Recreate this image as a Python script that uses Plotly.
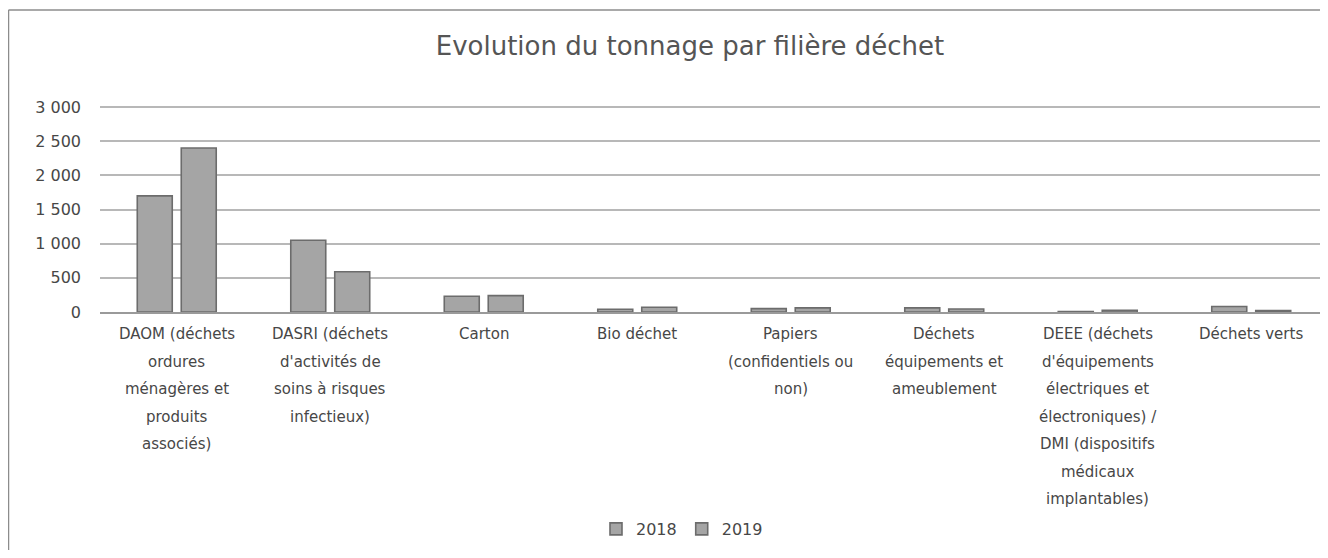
import plotly.graph_objects as go

categories = [
    "DAOM (déchets ordures ménagères et produits associés)",
    "DASRI (déchets d'activités de soins à risques infectieux)",
    "Carton",
    "Bio déchet",
    "Papiers (confidentiels ou non)",
    "Déchets équipements et ameublement",
    "DEEE (déchets d'équipements électriques et électroniques) / DMI (dispositifs médicaux implantables)",
    "Déchets verts",
]
tick_label_lines = [
    ["DAOM (déchets", "ordures", "ménagères et", "produits", "associés)"],
    ["DASRI (déchets", "d'activités de", "soins à risques", "infectieux)"],
    ["Carton"],
    ["Bio déchet"],
    ["Papiers", "(confidentiels ou", "non)"],
    ["Déchets", "équipements et", "ameublement"],
    ["DEEE (déchets", "d'équipements", "électriques et", "électroniques) /",
     "DMI (dispositifs", "médicaux", "implantables)"],
    ["Déchets verts"],
]
values_2018 = [1700, 1050, 230, 40, 50, 60, 5, 80]
values_2019 = [2400, 590, 240, 70, 60, 45, 25, 20]
y_ticks = [0, 500, 1000, 1500, 2000, 2500, 3000]
y_tick_labels = ["0", "500", "1 000", "1 500", "2 000", "2 500", "3 000"]

FONT = "DejaVu Sans, Open Sans, sans-serif"
TEXT = "#474747"
W, H = 1312, 542
ML, MT, MB = 92, 95, 238
plot_h = H - MT - MB          # 209 px
y_top = 3000 * plot_h / 205   # 3000 gridline sits 4px below the plot top

fig = go.Figure()
for name, vals in (("2018", values_2018), ("2019", values_2019)):
    fig.add_trace(go.Bar(
        name=name, x=categories, y=vals,
        marker=dict(color="#a5a5a5", line=dict(color="#6c6c6c", width=1.6)),
    ))

annotations = []
for cat, lines in zip(categories, tick_label_lines):
    for i, line in enumerate(lines):
        annotations.append(dict(
            x=cat, xref="x", y=0, yref="paper", yanchor="middle",
            yshift=-(22 + 27.5 * i), text=line, showarrow=False,
            font=dict(family=FONT, size=15, color=TEXT),
        ))

top_y = (H - MB - 2) / plot_h
left_x = (0.5 - ML) / (W - ML)

fig.update_layout(
    width=W, height=H,
    paper_bgcolor="white", plot_bgcolor="white",
    barmode="group", bargap=0.427, bargroupgap=0.2045,
    margin=dict(l=ML, r=0, t=MT, b=MB, autoexpand=False),
    font=dict(family=FONT, color=TEXT, size=15),
    title=dict(
        text="Evolution du tonnage par filière déchet",
        x=682 / W, xref="container", xanchor="center",
        y=1 - 38 / H, yref="container", yanchor="middle",
        font=dict(size=26, color="#555555", family=FONT),
    ),
    legend=dict(
        orientation="h", xref="container", yref="container",
        x=674 / W, xanchor="center", y=1 - 521 / H, yanchor="middle",
        font=dict(size=16, color=TEXT), itemwidth=30,
    ),
    xaxis=dict(
        range=[-0.5, 7.448], showgrid=False, showline=True,
        linecolor="#9a9a9a", linewidth=1.5, showticklabels=False, ticks="",
    ),
    yaxis=dict(
        range=[0, y_top], tickvals=y_ticks, ticktext=y_tick_labels,
        showgrid=True, gridcolor="#b8b8b8", gridwidth=1.5,
        zeroline=False, showline=False,
        tickfont=dict(size=16, color=TEXT), ticks="", ticklabelstandoff=18,
    ),
    annotations=annotations,
    shapes=[
        dict(type="line", xref="paper", yref="paper",
             x0=left_x, x1=1.0, y0=top_y, y1=top_y,
             line=dict(color="#8c8c8c", width=1.5)),
        dict(type="line", xref="paper", yref="paper",
             x0=left_x, x1=left_x, y0=top_y, y1=-MB / plot_h,
             line=dict(color="#8c8c8c", width=1.5)),
    ],
)

fig.write_html("out.html")
